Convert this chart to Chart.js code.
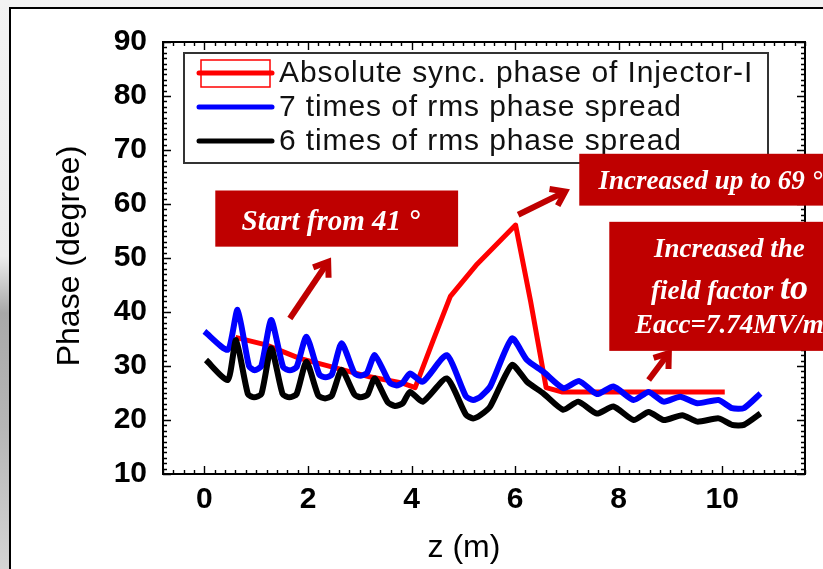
<!DOCTYPE html>
<html>
<head>
<meta charset="utf-8">
<script src="https://cdn.jsdelivr.net/npm/chart.js@4.4.1/dist/chart.umd.min.js"></script>
<style>
  html, body { margin: 0; padding: 0; width: 823px; height: 569px; overflow: hidden; }
  body {
    position: relative;
    background: linear-gradient(to bottom, #f3f3f3 0%, #ececec 45%, #a8a8a8 55%, #b6b6b6 75%, #d4d4d4 100%);
  }
  #panel {
    position: absolute; left: 9px; top: 7px; width: 840px; height: 590px;
    background: #fff; border: 2px solid #000;
  }
  #c { position: absolute; left: 0; top: 0; }
</style>
</head>
<body>
<div id="panel"></div>
<canvas id="c" width="823" height="569"></canvas>
<script>
// Tick values on the two axes
const zTicks = [0, 2, 4, 6, 8, 10];
const phaseTicks = [10, 20, 30, 40, 50, 60, 70, 80, 90];

// Absolute synchronous phase of Injector-I (degree) along z (m)
const syncZ     = [0.6, 1.19, 1.84, 2.55, 3.19, 3.84, 4.07, 4.42, 4.75, 5.27, 6.01, 6.3, 6.6, 6.9, 10.05];
const syncPhase = [35.3, 33.9, 31.4, 29.6, 28.0, 26.8, 26.0, 34.8, 42.9, 48.9, 56.1, 42.0, 26.0, 25.2, 25.2];

// 7 x rms phase spread
const rms7Z     = [0.0, 0.45, 0.64, 0.86, 0.97, 1.1, 1.29, 1.52, 1.65, 1.78, 1.97, 2.22, 2.34, 2.46, 2.65,
                   2.9, 3.02, 3.14, 3.29, 3.58, 3.71, 3.83, 3.97, 4.22, 4.68, 5.05, 5.19, 5.33, 5.52,
                   5.94, 6.23, 6.55, 6.93, 7.24, 7.58, 7.9, 8.29, 8.58, 8.87, 9.19, 9.52, 9.93, 10.19, 10.42, 10.74];
const rms7Phase = [36.4, 33.0, 40.4, 30.0, 29.2, 30.0, 38.5, 29.8, 29.2, 29.8, 35.4, 28.4, 27.9, 28.4, 34.2,
                   28.6, 28.2, 28.7, 32.0, 26.9, 26.4, 26.9, 28.6, 27.1, 32.0, 24.4, 23.7, 24.3, 26.2,
                   35.1, 31.1, 28.9, 25.9, 27.2, 24.8, 26.2, 23.7, 25.2, 23.4, 24.3, 23.1, 23.7, 22.2, 22.2, 24.9];

// 6 x rms phase spread
const rms6Z     = [0.03, 0.45, 0.61, 0.84, 0.96, 1.1, 1.29, 1.51, 1.64, 1.78, 1.97, 2.2, 2.33, 2.46, 2.65,
                   2.9, 3.02, 3.15, 3.29, 3.54, 3.68, 3.83, 3.97, 4.22, 4.68, 5.05, 5.19, 5.33, 5.52,
                   5.94, 6.23, 6.55, 6.93, 7.22, 7.58, 7.9, 8.29, 8.58, 8.87, 9.23, 9.52, 9.93, 10.19, 10.42, 10.74];
const rms6Phase = [31.1, 27.4, 34.8, 24.8, 24.2, 24.8, 33.3, 24.8, 24.2, 24.8, 30.8, 24.5, 24.0, 24.5, 29.3,
                   24.7, 24.2, 24.7, 27.7, 23.3, 22.6, 23.1, 25.2, 23.4, 27.7, 21.0, 20.3, 20.9, 22.5,
                   30.2, 27.1, 24.9, 21.9, 23.4, 21.2, 22.5, 20.0, 21.5, 20.0, 20.9, 19.7, 20.3, 19.1, 19.1, 21.2];

const seriesLabels = [
  'Absolute sync. phase of Injector-I',
  '7 times of rms phase spread',
  '6 times of rms phase spread'
];

const toPoints = (xs, ys) => xs.map((x, i) => ({ x, y: ys[i] }));

const SANS = '"Liberation Sans", Arial, sans-serif';
const SERIF = '"Liberation Serif", "Times New Roman", serif';
const ANN_RED = '#bf0000';

// Callout boxes, arrows and texts, placed in axis units (z, phase)
const callouts = [
  { box: [0.21, 62.5, 4.9, 52.1], arrow: [1.65, 38.8, 2.39, 49.3],
    lines: [{ at: [2.44, 55.2], align: 'center', parts: [['Start from 41 °', 29]] }] },
  { box: [7.24, 69.3, 12.3, 59.7], arrow: [6.06, 58.0, 6.97, 62.3],
    lines: [{ at: [7.61, 62.7], align: 'left', parts: [['Increased up to 69 °', 27]] }] },
  { box: [7.82, 56.7, 12.3, 32.8], arrow: [8.58, 27.4, 8.97, 32.4],
    lines: [
      { at: [10.14, 50.2], align: 'center', parts: [['Increased the', 27]] },
      { at: [10.14, 42.4], align: 'center', parts: [['field factor ', 27], ['to', 36]] },
      { at: [10.14, 36.1], align: 'center', parts: [['Eacc=7.74MV/m', 27]] }
    ] }
];

function drawArrow(ctx, x0, y0, x1, y1) {
  const ang = Math.atan2(y1 - y0, x1 - x0);
  const h = 16, spread = 0.62;
  ctx.beginPath();
  ctx.moveTo(x0, y0);
  ctx.lineTo(x1, y1);
  ctx.stroke();
  ctx.beginPath();
  ctx.moveTo(x1 - h * Math.cos(ang - spread), y1 - h * Math.sin(ang - spread));
  ctx.lineTo(x1, y1);
  ctx.lineTo(x1 - h * Math.cos(ang + spread), y1 - h * Math.sin(ang + spread));
  ctx.stroke();
}

const decorations = {
  id: 'decorations',
  afterDatasetsDraw(chart) {
    const { ctx, chartArea: a, scales: { x, y } } = chart;
    ctx.save();

    // inward major/minor ticks on all four sides
    ctx.strokeStyle = '#000';
    ctx.lineWidth = 1.4;
    ctx.beginPath();
    for (let k = Math.ceil(x.min * 5); k <= Math.floor(x.max * 5); k++) {
      const v = k / 5;
      const px = Math.round(x.getPixelForValue(v)) + 0.5;
      const L = (k % 10 === 0) ? 8 : 4;
      ctx.moveTo(px, a.bottom); ctx.lineTo(px, a.bottom - L);
      ctx.moveTo(px, a.top); ctx.lineTo(px, a.top + L);
    }
    for (let k = y.min; k <= y.max; k++) {
      const py = Math.round(y.getPixelForValue(k)) + 0.5;
      const L = (k % 10 === 0) ? 8 : 4;
      ctx.moveTo(a.left, py); ctx.lineTo(a.left + L, py);
      ctx.moveTo(a.right, py); ctx.lineTo(a.right - L, py);
    }
    ctx.stroke();

    // plot frame
    ctx.lineWidth = 2;
    ctx.strokeRect(a.left, a.top, a.right - a.left, a.bottom - a.top);

    // legend
    const lx0 = a.left + 21, ly0 = a.top + 11, lx1 = a.left + 605, ly1 = a.top + 121;
    ctx.fillStyle = '#fff';
    ctx.fillRect(lx0, ly0, lx1 - lx0, ly1 - ly0);
    ctx.strokeStyle = '#333';
    ctx.lineWidth = 2;
    ctx.strokeRect(lx0, ly0, lx1 - lx0, ly1 - ly0);
    const rowY = [ly0 + 20, ly0 + 54, ly0 + 88];
    const symL = lx0 + 15, symR = lx0 + 88;
    chart.data.datasets.forEach((ds, i) => {
      const ry = rowY[i];
      ctx.strokeStyle = ds.borderColor;
      if (i === 0) {
        ctx.lineWidth = 1.5;
        ctx.strokeRect(symL + 2, ry - 13, symR - symL - 4, 27);
      }
      ctx.lineWidth = 5;
      ctx.lineCap = 'round';
      ctx.beginPath();
      ctx.moveTo(symL, ry); ctx.lineTo(symR, ry);
      ctx.stroke();
      ctx.lineCap = 'butt';
      ctx.fillStyle = '#111';
      ctx.font = '30px ' + SANS;
      ctx.letterSpacing = '0.9px';
      ctx.textAlign = 'left';
      ctx.textBaseline = 'middle';
      ctx.fillText(ds.label, symR + 7, ry + 1);
      ctx.letterSpacing = '0px';
    });

    // axis titles
    ctx.fillStyle = '#000';
    ctx.font = '32px ' + SANS;
    ctx.textAlign = 'center';
    ctx.textBaseline = 'middle';
    ctx.fillText('z (m)', (a.left + a.right) / 2 - 20, a.bottom + 74);
    ctx.save();
    ctx.translate(a.left - 93, (a.top + a.bottom) / 2 - 2);
    ctx.rotate(-Math.PI / 2);
    ctx.fillText('Phase (degree)', 0, 0);
    ctx.restore();

    // callouts
    callouts.forEach(c => {
      const bx0 = x.getPixelForValue(c.box[0]), by0 = y.getPixelForValue(c.box[1]);
      const bx1 = x.getPixelForValue(c.box[2]), by1 = y.getPixelForValue(c.box[3]);
      ctx.fillStyle = ANN_RED;
      ctx.fillRect(bx0, by0, bx1 - bx0, by1 - by0);
      ctx.strokeStyle = ANN_RED;
      ctx.lineWidth = 6;
      drawArrow(ctx, x.getPixelForValue(c.arrow[0]), y.getPixelForValue(c.arrow[1]),
                     x.getPixelForValue(c.arrow[2]), y.getPixelForValue(c.arrow[3]));
      ctx.fillStyle = '#fff';
      ctx.textBaseline = 'alphabetic';
      ctx.textAlign = 'left';
      c.lines.forEach(line => {
        const widths = line.parts.map(([t, s]) => {
          ctx.font = `italic bold ${s}px ${SERIF}`;
          return ctx.measureText(t).width;
        });
        const total = widths.reduce((p, q) => p + q, 0);
        let tx = x.getPixelForValue(line.at[0]);
        if (line.align === 'center') tx -= total / 2;
        const ty = y.getPixelForValue(line.at[1]);
        line.parts.forEach(([t, s], j) => {
          ctx.font = `italic bold ${s}px ${SERIF}`;
          ctx.fillText(t, tx, ty);
          tx += widths[j];
        });
      });
    });

    ctx.restore();
  }
};

const tickFont = { family: SANS, size: 30, weight: 'bold' };

new Chart(document.getElementById('c'), {
  type: 'line',
  data: {
    datasets: [
      { label: seriesLabels[0], data: toPoints(syncZ, syncPhase), borderColor: '#ff0000', borderWidth: 5, order: 3, tension: 0 },
      { label: seriesLabels[1], data: toPoints(rms7Z, rms7Phase), borderColor: '#0000ff', borderWidth: 6, order: 2, tension: 0.2 },
      { label: seriesLabels[2], data: toPoints(rms6Z, rms6Phase), borderColor: '#000000', borderWidth: 6, order: 1, tension: 0.2 }
    ]
  },
  options: {
    responsive: false,
    animation: false,
    devicePixelRatio: 1,
    layout: { padding: { left: 0, top: 42, right: 18, bottom: 0 } },
    elements: {
      point: { radius: 0 },
      line: { fill: false, borderJoinStyle: 'round', borderCapStyle: 'butt' }
    },
    plugins: { legend: { display: false }, tooltip: { enabled: false } },
    scales: {
      x: {
        type: 'linear', min: -0.8, max: 11.6,
        grid: { display: false, drawTicks: false },
        border: { display: false },
        afterBuildTicks: s => { s.ticks = zTicks.map(v => ({ value: v })); },
        afterFit: s => { s.height = 95; },
        ticks: { padding: 8, font: tickFont, color: '#000', maxRotation: 0 }
      },
      y: {
        type: 'linear', min: 10, max: 90,
        grid: { display: false, drawTicks: false },
        border: { display: false },
        afterBuildTicks: s => { s.ticks = phaseTicks.map(v => ({ value: v })); },
        afterFit: s => { s.width = 163; },
        ticks: { padding: 16, font: tickFont, color: '#000' }
      }
    }
  },
  plugins: [decorations]
});
</script>
</body>
</html>
